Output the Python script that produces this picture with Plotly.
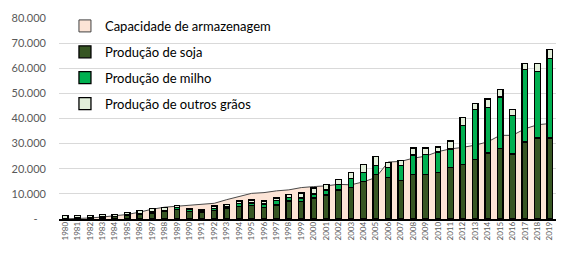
import plotly.graph_objects as go

years = list(range(1980, 2020))
year_labels = [str(y) for y in years]

soja = [250, 300, 400, 800, 950, 1400, 1800, 2200, 3000, 3800,
        2900, 2600, 3400, 4050, 4950, 5350, 4450, 5600, 7200, 6900,
        8350, 9500, 11500, 12500, 15000, 17700, 16600, 15400, 17700, 17700,
        18500, 20500, 21600, 23700, 26300, 28000, 25900, 30700, 32200, 32200]
milho = [50, 50, 50, 100, 100, 200, 300, 550, 500, 900,
         750, 600, 800, 750, 1300, 1050, 1550, 1700, 1400, 1450,
         1650, 2000, 2300, 3700, 3600, 3500, 3900, 5800, 7800, 8100,
         8200, 7400, 15700, 19800, 18000, 20600, 15300, 28800, 26500, 31600]
outros = [1000, 950, 850, 800, 650, 850, 1300, 1300, 950, 650,
          400, 450, 1000, 900, 950, 1200, 1200, 1050, 1050, 2050,
          2300, 2300, 2000, 2300, 3000, 3600, 1900, 2100, 2800, 2500,
          2000, 3100, 3100, 2400, 3500, 3000, 2300, 2400, 3200, 3700]
capacidade = [50, 200, 400, 800, 1300, 1800, 2750, 3900, 4700, 5100,
              5350, 5700, 6250, 7700, 9100, 10200, 10500, 11200, 11600, 12500,
              12900, 13200, 13800, 13600, 14800, 16500, 22700, 22900, 24200, 25000,
              26800, 27900, 28500, 29400, 30700, 33300, 33300, 35900, 37500, 38000]

y_ticks = [0, 10000, 20000, 30000, 40000, 50000, 60000, 70000, 80000]
y_tick_labels = ["-\u00a0\u00a0\u00a0", "10.000", "20.000", "30.000", "40.000",
                 "50.000", "60.000", "70.000", "80.000"]

names = ["Capacidade de armazenagem", "Produção de soja", "Produção de milho",
         "Produção de outros grãos"]

FONT = "Lato"
fig = go.Figure()

# storage capacity area (main subplot, drawn underneath the bars)
fig.add_trace(go.Scatter(
    x=years, y=capacidade, mode="lines", fill="tozeroy",
    fillcolor="#FCE4D6", line=dict(color="#4a4a4a", width=1),
    showlegend=False, hoverinfo="skip", yaxis="y", xaxis="x"))

# legend entry for capacity (square symbol)
fig.add_trace(go.Bar(
    x=[None], y=[None], name=names[0], legendgroup="g0",
    marker=dict(color="#FCE4D6", line=dict(color="#404040", width=1)),
    yaxis="y2", xaxis="x"))

bar_line = dict(color="black", width=1.3)
fig.add_trace(go.Bar(x=years, y=soja, name=names[1], legendgroup="g1",
                     marker=dict(color="#375623", line=bar_line),
                     width=0.45, yaxis="y2", xaxis="x"))
fig.add_trace(go.Bar(x=years, y=milho, name=names[2], legendgroup="g2",
                     marker=dict(color="#00B050", line=bar_line),
                     width=0.45, yaxis="y2", xaxis="x"))
fig.add_trace(go.Bar(x=years, y=outros, name=names[3], legendgroup="g3",
                     marker=dict(color="#E2EFDA", line=bar_line),
                     width=0.45, yaxis="y2", xaxis="x"))

fig.update_layout(
    width=567, height=259,
    margin=dict(l=53, r=11, t=13, b=40),
    paper_bgcolor="white", plot_bgcolor="white",
    barmode="stack",
    font=dict(family=FONT, color="#595959"),
    xaxis=dict(range=[1979.5, 2019.5], tickmode="array", tickvals=years,
               ticktext=year_labels, tickangle=-90,
               tickfont=dict(size=8, color="#595959", family=FONT),
               showgrid=False, zeroline=False, showline=True,
               linecolor="black", linewidth=1.5, ticks="", ticklabelstandoff=-2),
    yaxis=dict(range=[0, 80000], tickmode="array", tickvals=y_ticks,
               ticktext=y_tick_labels, showgrid=True, gridcolor="#D9D9D9",
               gridwidth=1, zeroline=False, ticks="",
               tickfont=dict(size=11, color="#595959", family=FONT),
               ticklabelstandoff=12),
    yaxis2=dict(range=[0, 80000], overlaying="y", visible=False,
                showgrid=False, zeroline=False),
    legend=dict(x=0.012, y=1.035, xanchor="left", yanchor="top",
                traceorder="grouped", tracegroupgap=6,
                font=dict(size=13, color="black", family=FONT),
                bgcolor="rgba(0,0,0,0)", itemwidth=30),
)

fig.write_html("out.html", config={"displayModeBar": False},
               post_script="document.body.style.margin='0';")
